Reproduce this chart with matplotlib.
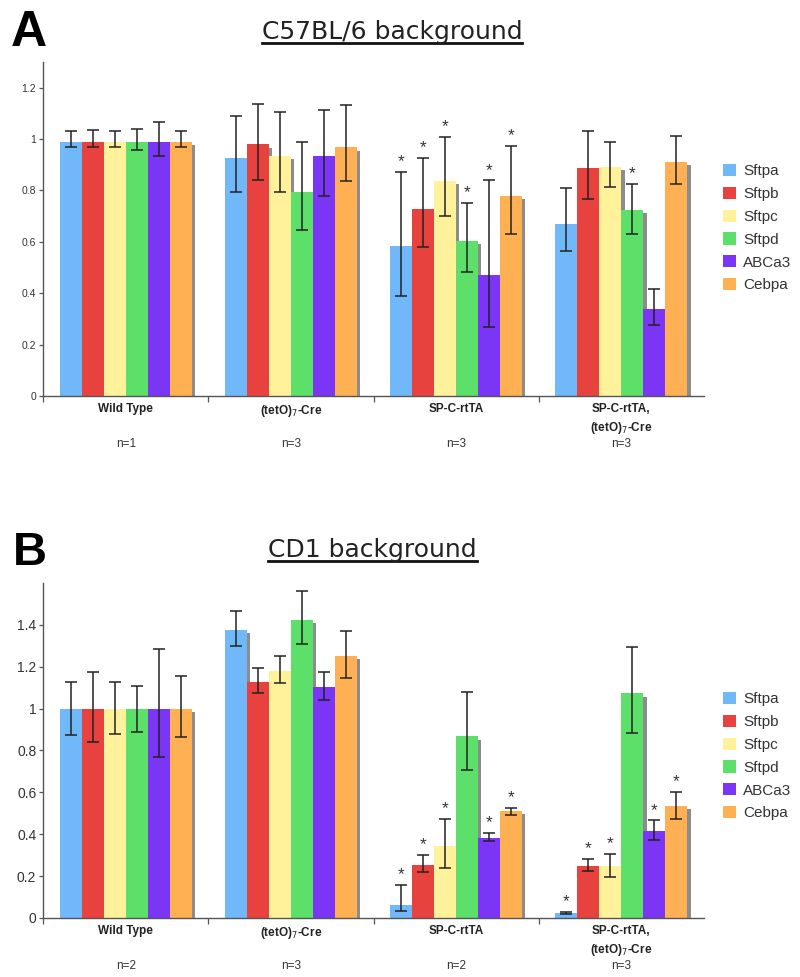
import matplotlib
matplotlib.use("Agg")
import matplotlib.pyplot as plt
import matplotlib.patheffects as pe
from matplotlib.patches import Patch
from matplotlib.lines import Line2D
from matplotlib.ticker import FormatStrFormatter
import numpy as np

plt.rcParams['font.family'] = ['Liberation Sans', 'DejaVu Sans']

genes = ['Sftpa', 'Sftpb', 'Sftpc', 'Sftpd', 'ABCa3', 'Cebpa']
colors = ['#70B8FA', '#E8423F', '#FFF29A', '#5CE06A', '#7A35F5', '#FFB052']
groups = ['Wild Type', '(tetO)$_7$-Cre', 'SP-C-rtTA', 'SP-C-rtTA,\n(tetO)$_7$-Cre']

# panel A: C57BL/6 (rows = genes, cols = groups)
n_a = ['n=1', 'n=3', 'n=3', 'n=3']
ticks_a = [0, 0.2, 0.4, 0.6, 0.8, 1, 1.2]
mean_a = [[0.99, 0.927, 0.583, 0.671],
          [0.99, 0.979, 0.729, 0.888],
          [0.99, 0.936, 0.836, 0.893],
          [0.99, 0.796, 0.603, 0.725],
          [0.99, 0.936, 0.472, 0.338],
          [0.99, 0.968, 0.779, 0.910]]
low_a = [[0.968, 0.794, 0.388, 0.563],
         [0.968, 0.841, 0.580, 0.765],
         [0.968, 0.794, 0.699, 0.813],
         [0.957, 0.645, 0.483, 0.632],
         [0.936, 0.778, 0.267, 0.278],
         [0.968, 0.838, 0.632, 0.826]]
high_a = [[1.033, 1.091, 0.871, 0.809],
          [1.037, 1.137, 0.926, 1.030],
          [1.033, 1.107, 1.007, 0.990],
          [1.040, 0.989, 0.751, 0.826],
          [1.068, 1.115, 0.839, 0.417],
          [1.033, 1.133, 0.973, 1.011]]
star_a = [[0, 0, 1, 0],
          [0, 0, 1, 0],
          [0, 0, 1, 0],
          [0, 0, 1, 1],
          [0, 0, 1, 0],
          [0, 0, 1, 0]]

# panel B: CD1
n_b = ['n=2', 'n=3', 'n=2', 'n=3']
ticks_b = [0, 0.2, 0.4, 0.6, 0.8, 1, 1.2, 1.4]
mean_b = [[1.0, 1.376, 0.064, 0.022],
          [1.0, 1.129, 0.255, 0.250],
          [1.0, 1.180, 0.342, 0.250],
          [1.0, 1.425, 0.867, 1.073],
          [1.0, 1.104, 0.384, 0.415],
          [1.0, 1.253, 0.513, 0.537]]
low_b = [[0.872, 1.297, 0.031, 0.018],
         [0.840, 1.076, 0.219, 0.223],
         [0.880, 1.122, 0.240, 0.198],
         [0.886, 1.310, 0.706, 0.885],
         [0.769, 1.041, 0.367, 0.371],
         [0.863, 1.148, 0.493, 0.475]]
high_b = [[1.128, 1.464, 0.156, 0.030],
          [1.175, 1.196, 0.300, 0.280],
          [1.128, 1.251, 0.472, 0.304],
          [1.108, 1.564, 1.077, 1.294],
          [1.283, 1.175, 0.405, 0.466],
          [1.155, 1.370, 0.527, 0.600]]
star_b = [[0, 0, 1, 1],
          [0, 0, 1, 1],
          [0, 0, 1, 1],
          [0, 0, 0, 0],
          [0, 0, 1, 1],
          [0, 0, 1, 1]]


def panel(ax, mean, low, high, stars, nlab, yticks, ytop, tickfs):
    x = np.arange(len(groups))
    w = 0.133
    shadow = [pe.SimplePatchShadow(offset=(2.3, -2.3), shadow_rgbFace='#8c8c8c', alpha=1.0), pe.Normal()]
    for k, g in enumerate(genes):
        xs = x + (k - 2.5) * w
        m = np.array(mean[k])
        bars = ax.bar(xs, m, width=w, color=colors[k], linewidth=0, zorder=1)
        for b in bars:
            b.set_path_effects(shadow)
        yerr = [m - np.array(low[k]), np.array(high[k]) - m]
        ax.errorbar(xs, m, yerr=yerr, fmt='none', ecolor='#222222', elinewidth=1.1,
                    capsize=4, capthick=1.1, zorder=3)
        for j in range(len(groups)):
            if stars[k][j]:
                ax.annotate('*', xy=(xs[j], high[k][j]), xytext=(0, 2), textcoords='offset points',
                            ha='center', va='bottom', fontsize=12.5, color='#333333')
    ax.set_xlim(-0.5, len(groups) - 0.5)
    ax.set_ylim(0, ytop)
    ax.set_xticks([-0.5, 0.5, 1.5, 2.5])
    ax.set_xticklabels([])
    ax.set_yticks(yticks)
    ax.tick_params(axis='x', length=4, width=0.9, color='#555555')
    ax.tick_params(axis='y', length=3, width=0.9, color='#555555', labelsize=tickfs, labelcolor='#333333', pad=2)
    ax.yaxis.set_major_formatter(FormatStrFormatter('%g'))
    for s in ['top', 'right']:
        ax.spines[s].set_visible(False)
    for s in ['left', 'bottom']:
        ax.spines[s].set_color('#555555')
        ax.spines[s].set_linewidth(1.0)
    ax.spines['bottom'].set_zorder(4)
    for j, g in enumerate(groups):
        ax.annotate(g, xy=(x[j], 0), xycoords=('data', 'axes fraction'), xytext=(0, -5),
                    textcoords='offset points', ha='center', va='top', fontsize=8.5,
                    fontweight='bold', color='#222222', linespacing=1.5)
        ax.annotate(nlab[j], xy=(x[j], 0), xycoords=('data', 'axes fraction'), xytext=(0, -30),
                    textcoords='offset points', ha='center', va='top', fontsize=8.5, color='#333333')


fig = plt.figure(figsize=(8, 9.77), dpi=100)
ax_a = fig.add_axes([0.054, 0.5947, 0.826, 0.3418])
ax_b = fig.add_axes([0.054, 0.0604, 0.826, 0.3429])

panel(ax_a, mean_a, low_a, high_a, star_a, n_a, ticks_a, 1.3, 7.5)
panel(ax_b, mean_b, low_b, high_b, star_b, n_b, ticks_b, 1.6, 10)

handles = [Patch(facecolor=c, edgecolor='none') for c in colors]
for ytop in [1 - 164 / 977, 1 - 692 / 977]:
    fig.legend(handles, genes, loc='upper left', bbox_to_anchor=(723 / 800, ytop),
               frameon=False, fontsize=11, handlelength=0.85, handleheight=0.85,
               handletextpad=0.45, labelspacing=0.55, borderpad=0, borderaxespad=0,
               labelcolor='#333333')

fig.text(0.014, 0.953, 'A', fontsize=36, fontweight='bold', ha='left', va='baseline')
fig.text(0.016, 0.422, 'B', fontsize=34, fontweight='bold', ha='left', va='baseline')
titles = [fig.text(0.49, 0.960, 'C57BL/6 background', fontsize=18, ha='center', va='baseline',
                   family=['Liberation Sans Narrow', 'DejaVu Sans'], color='#222222'),
          fig.text(0.466, 0.430, 'CD1 background', fontsize=18, ha='center', va='baseline',
                   family=['Liberation Sans Narrow', 'DejaVu Sans'], color='#222222')]

fig.canvas.draw()
inv = fig.transFigure.inverted()
for t in titles:
    bb = t.get_window_extent()
    (x0, y0), (x1, _) = inv.transform([[bb.x0, bb.y0], [bb.x1, bb.y1]])
    fig.add_artist(Line2D([x0, x1], [y0 + 0.001, y0 + 0.001], transform=fig.transFigure,
                          color='#111111', lw=2))

fig.savefig('out.png', dpi=100)
